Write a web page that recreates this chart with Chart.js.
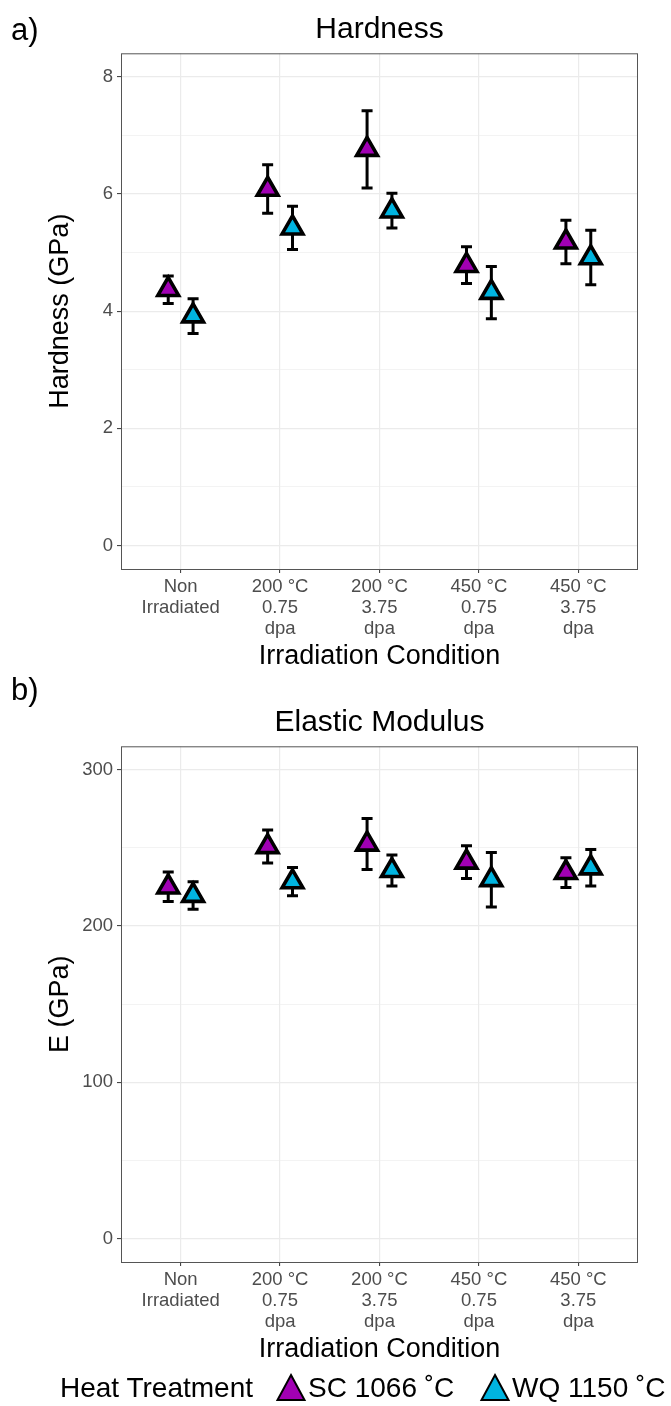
<!DOCTYPE html>
<html>
<head>
<meta charset="utf-8">
<script src="https://cdn.jsdelivr.net/npm/chart.js@4.4.0/dist/chart.umd.min.js"></script>
<style>
  html, body { margin: 0; padding: 0; background: #fff; }
  body { width: 671px; height: 1406px; position: relative; overflow: hidden;
         font-family: "Liberation Sans", Arial, sans-serif; }
  canvas { position: absolute; left: 0; }
  #chartA { top: 0; }
  #chartB { top: 693px; }
  .tag { position: absolute; left: 11px; font-size: 31px; color: #000; line-height: 1; }
  #legend { position: absolute; left: 0; top: 1370px; width: 671px; height: 36px;
            font-size: 28px; color: #000; white-space: nowrap; }
  #legend > * { position: absolute; top: 50%; transform: translateY(-50%); line-height: 1; }
  #legend svg { display: block; }
</style>
</head>
<body>
<canvas id="chartA" width="671" height="693"></canvas>
<canvas id="chartB" width="671" height="693"></canvas>
<div class="tag" style="top:14px">a)</div>
<div class="tag" style="top:674px">b)</div>
<div id="legend">
  <span style="left:60px">Heat Treatment</span>
  <svg width="32" height="32" style="left:275px"><polygon points="16,3 29.5,28 2.5,28" fill="#A100B4" stroke="#000" stroke-width="2"/></svg>
  <span style="left:308px">SC 1066 ˚C</span>
  <svg width="32" height="32" style="left:479px"><polygon points="16,3 29.5,28 2.5,28" fill="#00B4E0" stroke="#000" stroke-width="2"/></svg>
  <span style="left:512px">WQ 1150 ˚C</span>
</div>
<script>
// irradiation conditions on the x axis (multi-line tick labels)
const conditions = [
  ['Non', 'Irradiated'],
  ['200 °C', '0.75', 'dpa'],
  ['200 °C', '3.75', 'dpa'],
  ['450 °C', '0.75', 'dpa'],
  ['450 °C', '3.75', 'dpa']
];

// hardness (GPa): mean and error bar ends
const hardnessSC = [4.37, 6.08, 6.76, 4.78, 5.18];
const hardnessSCLow = [4.13, 5.67, 6.10, 4.47, 4.81];
const hardnessSCHigh = [4.60, 6.50, 7.42, 5.10, 5.55];
const hardnessWQ = [3.92, 5.42, 5.71, 4.32, 4.91];
const hardnessWQLow = [3.62, 5.05, 5.42, 3.87, 4.45];
const hardnessWQHigh = [4.21, 5.79, 6.01, 4.76, 5.38];

// elastic modulus (GPa): mean and error bar ends
const modulusSC = [225.0, 250.8, 252.4, 240.9, 234.2];
const modulusSCLow = [215.7, 240.3, 236.1, 230.4, 224.6];
const modulusSCHigh = [234.6, 261.4, 268.8, 251.4, 243.7];
const modulusWQ = [219.6, 228.3, 235.5, 229.7, 237.2];
const modulusWQLow = [210.8, 219.3, 225.6, 212.2, 225.6];
const modulusWQHigh = [228.4, 237.4, 245.4, 247.1, 248.9];

const hardnessTicks = [0, 2, 4, 6, 8];
const hardnessMinor = [1, 3, 5, 7];
const modulusTicks = [0, 100, 200, 300];
const modulusMinor = [50, 150, 250];

const FONT = '"Liberation Sans", Arial, sans-serif';
const SC_FILL = '#A100B4';
const WQ_FILL = '#00B4E0';
const DODGE = 0.125;

// whiskers with caps, drawn under the triangles
const errorBars = {
  id: 'errorBars',
  beforeDatasetsDraw(chart) {
    const { ctx, scales: { x, y } } = chart;
    ctx.save();
    ctx.strokeStyle = '#000';
    ctx.lineWidth = 3;
    ctx.lineCap = 'butt';
    chart.data.datasets.forEach(ds => {
      ds.data.forEach(p => {
        const px = x.getPixelForValue(p.x);
        const top = y.getPixelForValue(p.hi);
        const bot = y.getPixelForValue(p.lo);
        ctx.beginPath();
        ctx.moveTo(px, top); ctx.lineTo(px, bot);
        ctx.moveTo(px - 5.5, top); ctx.lineTo(px + 5.5, top);
        ctx.moveTo(px - 5.5, bot); ctx.lineTo(px + 5.5, bot);
        ctx.stroke();
      });
    });
    ctx.restore();
  }
};

// panel border around the plotting area
const panelBorder = {
  id: 'panelBorder',
  beforeDatasetsDraw(chart) {
    const { ctx, chartArea: a } = chart;
    ctx.save();
    ctx.strokeStyle = '#555';
    ctx.lineWidth = 1;
    ctx.strokeRect(a.left + 0.5, a.top + 0.5, a.right - a.left - 1, a.bottom - a.top);
    ctx.restore();
  }
};

function series(label, means, lows, highs, offset, fill) {
  return {
    label,
    data: means.map((m, i) => ({ x: i + offset, y: m, lo: lows[i], hi: highs[i] })),
    pointStyle: 'triangle',
    pointRadius: 12,
    pointHoverRadius: 12,
    pointBorderWidth: 3.6,
    pointBorderColor: '#000',
    pointBackgroundColor: fill,
    showLine: false
  };
}

function makePanel(id, title, yTitle, datasets, yMin, yMax, majors, minors) {
  const grid = majors.concat(minors).sort((a, b) => a - b);
  return new Chart(document.getElementById(id), {
    type: 'scatter',
    data: { datasets },
    options: {
      responsive: false,
      animation: false,
      events: [],
      layout: { padding: { left: 0, right: 33, top: 0, bottom: 0 } },
      plugins: {
        legend: { display: false },
        tooltip: { enabled: false },
        title: {
          display: true,
          text: title,
          fullSize: false,
          color: '#000',
          font: { family: FONT, size: 30, weight: 'normal' },
          padding: { top: 12, bottom: 5.3 }
        }
      },
      scales: {
        x: {
          type: 'linear',
          min: -0.6,
          max: 4.6,
          afterBuildTicks: axis => { axis.ticks = conditions.map((c, i) => ({ value: i })); },
          afterFit: axis => { axis.height = 124; },
          border: { display: false },
          grid: { color: '#EBEBEB', lineWidth: 1.2, tickLength: 4, tickColor: '#333', tickWidth: 1 },
          ticks: {
            autoSkip: false,
            maxRotation: 0,
            padding: 3,
            color: '#4D4D4D',
            font: { family: FONT, size: 18.5, lineHeight: 1.15 },
            callback: v => conditions[v]
          },
          title: {
            display: true,
            text: 'Irradiation Condition',
            color: '#000',
            font: { family: FONT, size: 27 },
            padding: { top: 0, bottom: 20 }
          }
        },
        y: {
          min: yMin,
          max: yMax,
          afterBuildTicks: axis => { axis.ticks = grid.map(v => ({ value: v })); },
          afterFit: axis => { axis.width = 121; },
          border: { display: false },
          grid: {
            color: '#EBEBEB',
            lineWidth: c => majors.includes(c.tick.value) ? 1.2 : 0.6,
            tickLength: 4,
            tickWidth: 1,
            tickColor: c => majors.includes(c.tick.value) ? '#333' : 'rgba(0,0,0,0)'
          },
          ticks: {
            padding: 4,
            color: '#4D4D4D',
            font: { family: FONT, size: 18.5 },
            callback: v => majors.includes(v) ? String(v) : ''
          },
          title: {
            display: true,
            text: yTitle,
            color: '#000',
            font: { family: FONT, size: 27 },
            padding: { top: 44, bottom: 0 }
          }
        }
      }
    },
    plugins: [panelBorder, errorBars]
  });
}

makePanel('chartA', 'Hardness', 'Hardness (GPa)', [
  series('SC 1066 ˚C', hardnessSC, hardnessSCLow, hardnessSCHigh, -DODGE, SC_FILL),
  series('WQ 1150 ˚C', hardnessWQ, hardnessWQLow, hardnessWQHigh, DODGE, WQ_FILL)
], -0.4, 8.4, hardnessTicks, hardnessMinor);

makePanel('chartB', 'Elastic Modulus', 'E (GPa)', [
  series('SC 1066 ˚C', modulusSC, modulusSCLow, modulusSCHigh, -DODGE, SC_FILL),
  series('WQ 1150 ˚C', modulusWQ, modulusWQLow, modulusWQHigh, DODGE, WQ_FILL)
], -15, 315, modulusTicks, modulusMinor);
</script>
</body>
</html>
